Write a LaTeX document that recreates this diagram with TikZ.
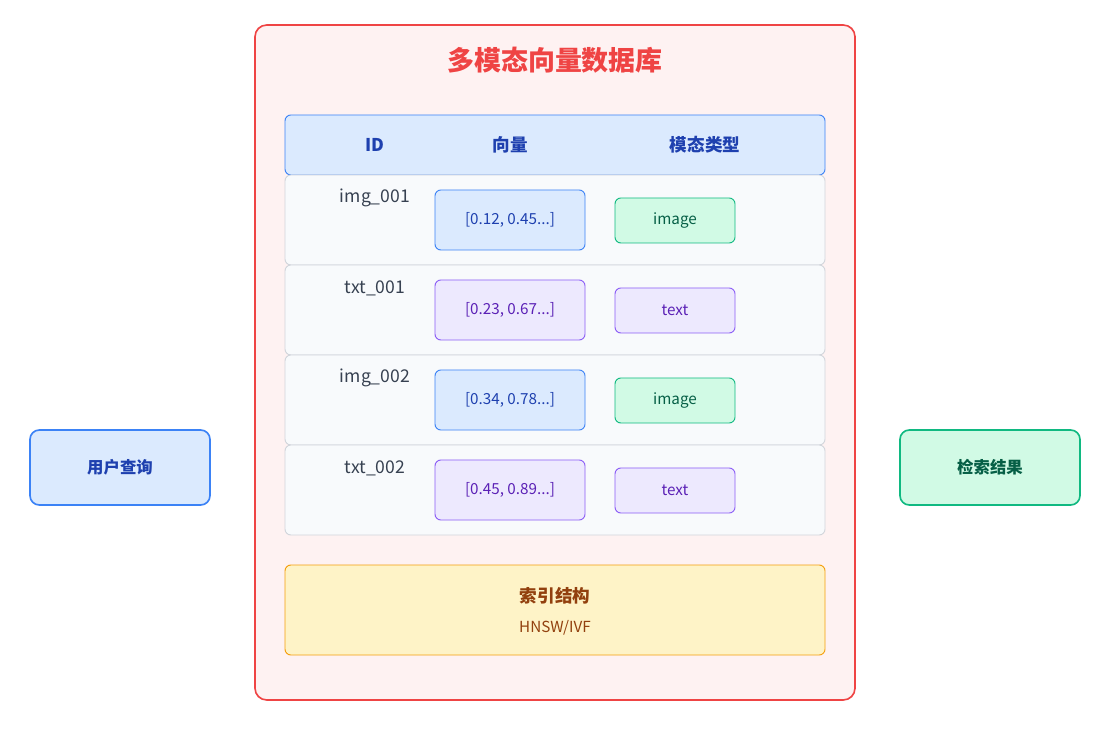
\documentclass[tikz,border=0pt]{standalone}
\usepackage{fontspec}
\setmainfont{Noto Sans CJK SC}
\usetikzlibrary{positioning}
\definecolor{redline}{HTML}{EF4444}
\definecolor{redfill}{HTML}{FEF2F2}
\definecolor{blueline}{HTML}{3B82F6}
\definecolor{bluefill}{HTML}{DBEAFE}
\definecolor{bluetext}{HTML}{1E40AF}
\definecolor{purpleline}{HTML}{8B5CF6}
\definecolor{purplefill}{HTML}{EDE9FE}
\definecolor{purpletext}{HTML}{5B21B6}
\definecolor{greenline}{HTML}{10B981}
\definecolor{greenfill}{HTML}{D1FAE5}
\definecolor{greentext}{HTML}{065F46}
\definecolor{rowline}{HTML}{D1D5DB}
\definecolor{rowfill}{HTML}{F8FAFC}
\definecolor{amberline}{HTML}{F59E0B}
\definecolor{amberfill}{HTML}{FEF3C7}
\definecolor{ambertext}{HTML}{92400E}
\definecolor{idtext}{HTML}{374151}
\tikzset{
  rbox/.style={rounded corners=5pt, line width=0.8pt},
  vecbox/.style={rbox, minimum width=4.5cm, minimum height=1.8cm, font=\fontsize{13}{15}\selectfont},
  typebox/.style={rbox, minimum width=3.6cm, minimum height=1.35cm, font=\fontsize{13}{15}\selectfont},
  sidebox/.style={rbox, line width=1.4pt, rounded corners=8pt, minimum width=5.4cm, minimum height=2.25cm, font=\fontsize{14}{16}\selectfont\bfseries}
}
\begin{document}
\begin{tikzpicture}[x=0.03cm, y=-0.03cm]
\useasboundingbox (0,0) rectangle (1110,738);

% outer database frame
\draw[rbox, rounded corners=10pt, line width=1.4pt, draw=redline, fill=redfill] (255,25) rectangle (855,700);
\node[text=redline, font=\fontsize{23}{26}\selectfont\bfseries] (title) at (555,60) {多模态向量数据库};

% header row
\draw[rbox, draw=blueline, fill=bluefill] (285,115) rectangle (825,175);
\node[text=bluetext, font=\fontsize{15}{17}\selectfont\bfseries] (hid) at (375,145) {ID};
\node[text=bluetext, font=\fontsize{15}{17}\selectfont\bfseries] (hvec) at (510,145) {向量};
\node[text=bluetext, font=\fontsize{15}{17}\selectfont\bfseries] (htype) at (705,145) {模态类型};

% data rows
\foreach \i/\id/\vec/\kind/\col in {0/img\_001/{[0.12, 0.45...]}/image/blue,
                                    1/txt\_001/{[0.23, 0.67...]}/text/purple,
                                    2/img\_002/{[0.34, 0.78...]}/image/blue,
                                    3/txt\_002/{[0.45, 0.89...]}/text/purple} {
  \draw[rbox, draw=rowline, fill=rowfill] (285,175+\i*90) rectangle (825,265+\i*90);
  \node[text=idtext, font=\fontsize{15}{17}\selectfont] (id\i) at (375,198+\i*90) {\id};
  \node[vecbox, draw=\col line, fill=\col fill, text=\col text] (vec\i) at (510,220+\i*90) {\vec};
  \ifnum\i=0 \def\kcol{green}\fi
  \ifnum\i=2 \def\kcol{green}\fi
  \ifnum\i=1 \def\kcol{purple}\fi
  \ifnum\i=3 \def\kcol{purple}\fi
  \node[typebox, draw=\kcol line, fill=\kcol fill, text=\kcol text] (type\i) at (675,220.5+\i*90) {\kind};
}

% index structure
\draw[rbox, draw=amberline, fill=amberfill] (285,565) rectangle (825,655);
\node[text=ambertext, font=\fontsize{15}{17}\selectfont\bfseries] (idx) at (555,596) {索引结构};
\node[text=ambertext, font=\fontsize{13}{15}\selectfont] (idxsub) at (555,628) {HNSW/IVF};

% query and result
\node[sidebox, draw=blueline, fill=bluefill, text=bluetext] (query) at (120,467.5) {用户查询};
\node[sidebox, draw=greenline, fill=greenfill, text=greentext] (result) at (990,467.5) {检索结果};
\end{tikzpicture}
\end{document}
